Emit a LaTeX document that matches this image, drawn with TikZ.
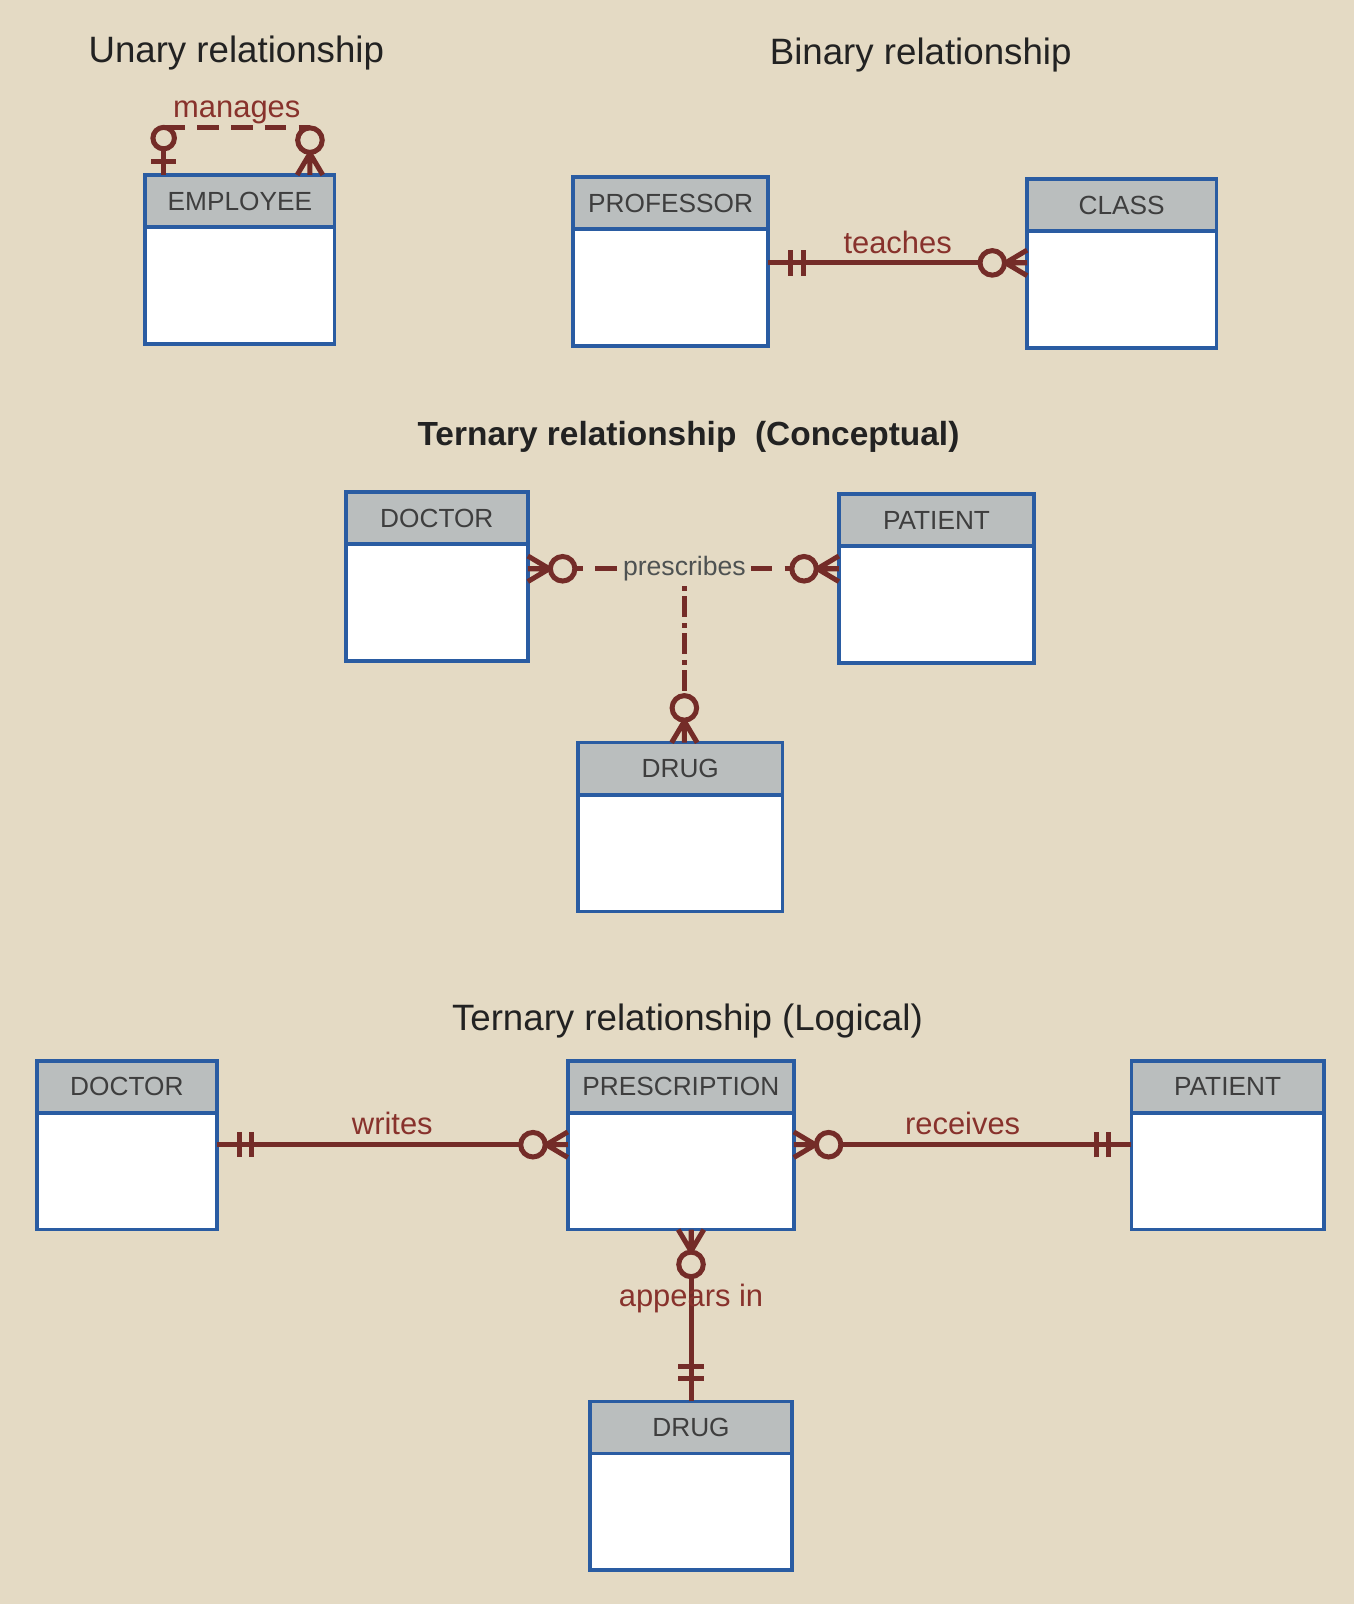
\documentclass[tikz,border=0pt]{standalone}
\usepackage{fontspec}
\setmainfont{Liberation Sans}
\usetikzlibrary{positioning}

\definecolor{paper}{RGB}{228,218,196}
\definecolor{erblue}{RGB}{42,92,162}
\definecolor{ergray}{RGB}{186,190,190}
\definecolor{erred}{RGB}{116,44,40}
\definecolor{labelred}{RGB}{136,50,44}
\definecolor{headtext}{RGB}{62,62,62}
\definecolor{titletext}{RGB}{34,34,34}
\definecolor{prestext}{RGB}{78,82,82}

\begin{document}
\begin{tikzpicture}[node distance=0pt, thick]
        % Define block styles
        \tikzstyle{heading} = [font=\fontsize{10.2}{12}\selectfont, text=titletext]
        \tikzstyle{entityhead} = [rectangle, draw=erblue, fill=ergray, line width=1pt, outer sep=0pt, inner sep=0pt, minimum height=0.51cm, font=\fontsize{7.3}{9}\selectfont, text=headtext]
        \tikzstyle{entitybody} = [rectangle, draw=erblue, fill=white, line width=1pt, outer sep=0pt, inner sep=0pt, minimum height=1.14cm]
        \tikzstyle{erline} = [draw=erred, line width=1.4pt]
        \tikzstyle{dashes} = [dash pattern=on 0.21cm off 0.12cm]
        \tikzstyle{dashdots} = [dash pattern=on 0.05cm off 0.05cm on 0.2cm off 0.06cm]
        \tikzstyle{rellabel} = [font=\fontsize{8.6}{10}\selectfont, text=labelred]
        \tikzstyle{overline} = [rellabel, anchor=base, inner sep=0pt, yshift=0.095cm]

        % Crow's foot ends, drawn from the entity edge outwards along x
        \tikzset{
            zeromany/.pic={\draw[erline] (0,0) -- (0.34,0) (0,0.125) -- (0.21,0) -- (0,-0.125);
                \draw[erline, fill=paper] (0.34,0) circle (0.12);},
            onlyone/.pic={\draw[erline] (0,0) -- (0.4,0) (0.22,0.125) -- (0.22,-0.125) (0.34,0.125) -- (0.34,-0.125);},
            zeroone/.pic={\draw[erline] (0,0) -- (0.36,0) (0.13,0.12) -- (0.13,-0.12);
                \draw[erline, fill=paper] (0.36,0) circle (0.105);}
        }

        \fill[paper] (0,0) rectangle (13.24,-15.68);
        \useasboundingbox (0,0) rectangle (13.24,-15.68);

        % Headings
        \node [heading] (unary) at (2.31,-0.52) {Unary relationship};
        \node [heading] (binary) at (9.00,-0.54) {Binary relationship};
        \node [heading, font=\fontsize{9.3}{11}\selectfont\bfseries] (ternc) at (6.73,-4.27) {Ternary relationship\ \ (Conceptual)};
        \node [heading] (ternl) at (6.72,-9.98) {Ternary relationship (Logical)};

        % Define nodes
        \node [entityhead, minimum width=1.85cm, anchor=north west] (emp) at (1.42,-1.71) {EMPLOYEE};
        \node [entitybody, minimum width=1.85cm, below=of emp] (empbody) {};
        \node [entityhead, minimum width=1.91cm, anchor=north west] (prof) at (5.60,-1.73) {PROFESSOR};
        \node [entitybody, minimum width=1.91cm, below=of prof] (profbody) {};
        \node [entityhead, minimum width=1.85cm, anchor=north west] (cls) at (10.04,-1.75) {CLASS};
        \node [entitybody, minimum width=1.85cm, below=of cls] (clsbody) {};

        \node [entityhead, minimum width=1.78cm, anchor=north west] (docc) at (3.38,-4.81) {DOCTOR};
        \node [entitybody, minimum width=1.78cm, below=of docc] (doccbody) {};
        \node [entityhead, minimum width=1.91cm, anchor=north west] (patc) at (8.20,-4.83) {PATIENT};
        \node [entitybody, minimum width=1.91cm, below=of patc] (patcbody) {};
        \node [entityhead, minimum width=2.00cm, anchor=north west] (drugc) at (5.65,-7.26) {DRUG};
        \node [entitybody, minimum width=2.00cm, below=of drugc] (drugcbody) {};

        \node [entityhead, minimum width=1.76cm, anchor=north west] (docl) at (0.36,-10.37) {DOCTOR};
        \node [entitybody, minimum width=1.76cm, below=of docl] (doclbody) {};
        \node [entityhead, minimum width=2.21cm, anchor=north west] (presl) at (5.55,-10.37) {PRESCRIPTION};
        \node [entitybody, minimum width=2.21cm, below=of presl] (preslbody) {};
        \node [entityhead, minimum width=1.88cm, anchor=north west] (patl) at (11.06,-10.37) {PATIENT};
        \node [entitybody, minimum width=1.88cm, below=of patl] (patlbody) {};
        \node [entityhead, minimum width=1.97cm, anchor=north west] (drugl) at (5.77,-13.70) {DRUG};
        \node [entitybody, minimum width=1.97cm, below=of drugl] (druglbody) {};

        \node [font=\fontsize{7.4}{9}\selectfont, text=prestext, inner sep=1pt] (presc) at (6.69,-5.56) {prescribes};

        % Connect nodes with paths
        \coordinate (m1) at ([xshift=0.18cm]emp.north west);
        \coordinate (m2) at ([xshift=-0.24cm]emp.north east);
        \draw[erline, dashes] ([yshift=0.465cm]m1) -- node[overline] {manages} ([yshift=0.465cm]m2);
        \path (m1) pic[rotate=90] {zeroone};
        \path (m2) pic[rotate=90] {zeromany};

        \coordinate (t1) at ([yshift=-0.33cm]profbody.north east);
        \draw[erline] (t1) -- node[overline] {teaches} (t1 -| clsbody.west);
        \path (t1) pic {onlyone};
        \path (t1 -| clsbody.west) pic[rotate=180] {zeromany};

        \draw[erline, dashes] (doccbody.east |- presc) -- (presc.west);
        \draw[erline, dashes] (presc.east) -- (patcbody.west |- presc);
        \draw[erline, dashdots] (presc.south) -- (presc.south |- drugc.north);
        \path (doccbody.east |- presc) pic {zeromany};
        \path (patcbody.west |- presc) pic[rotate=180] {zeromany};
        \path (presc.south |- drugc.north) pic[rotate=90] {zeromany};

        \coordinate (w1) at ([yshift=-0.31cm]doclbody.north east);
        \draw[erline] (w1) -- node[overline] {writes} (w1 -| preslbody.west);
        \path (w1) pic {onlyone};
        \path (w1 -| preslbody.west) pic[rotate=180] {zeromany};

        \coordinate (r1) at ([yshift=-0.31cm]preslbody.north east);
        \draw[erline] (r1) -- node[overline] {receives} (r1 -| patlbody.west);
        \path (r1) pic {zeromany};
        \path (r1 -| patlbody.west) pic[rotate=180] {onlyone};

        \draw[erline] (drugl.north |- preslbody.south) -- node[rellabel, pos=0.4] {appears in} (drugl.north);
        \path (drugl.north |- preslbody.south) pic[rotate=-90] {zeromany};
        \path (drugl.north) pic[rotate=90] {onlyone};

    \end{tikzpicture}
\end{document}
